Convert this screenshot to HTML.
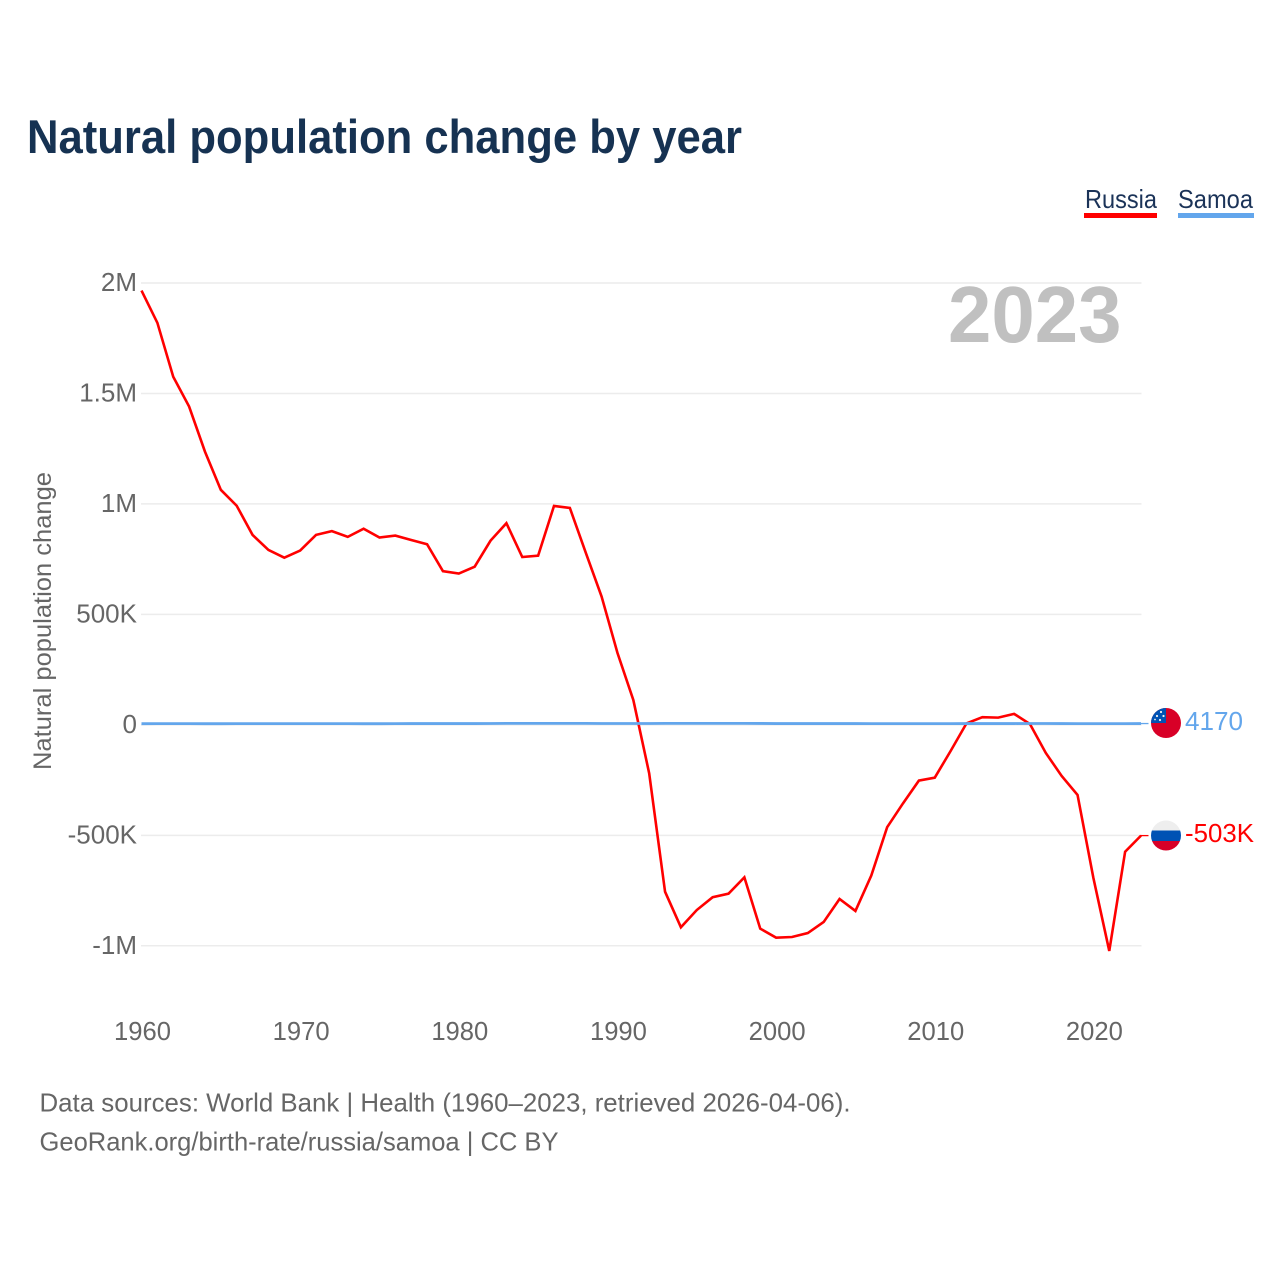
<!DOCTYPE html>
<html lang="en">
<head>
<meta charset="utf-8">
<title>Natural population change by year</title>
<style>
  html, body { margin: 0; padding: 0; background: #ffffff; }
  svg { display: block; }
  text { font-family: "Liberation Sans", sans-serif; }
</style>
</head>
<body>
<svg id="chart" xmlns="http://www.w3.org/2000/svg" width="1280" height="1280" viewBox="0 0 1280 1280">
  <defs>
    <clipPath id="flag-clip-samoa"><circle id="clip-samoa" cx="1166" cy="723" r="15"></circle></clipPath>
    <clipPath id="flag-clip-russia"><circle id="clip-russia" cx="1166" cy="835.5" r="15"></circle></clipPath>
  </defs>
  <rect x="0" y="0" width="1280" height="1280" fill="#ffffff"></rect>

  <text x="27" y="153" font-size="47" font-weight="700" fill="#163252" textLength="715" lengthAdjust="spacingAndGlyphs">Natural population change by year</text>

  <g>
    <g>
      <text x="1085" y="208" font-size="26" fill="#1b3358" textLength="72" lengthAdjust="spacingAndGlyphs">Russia</text>
      <rect x="1084" y="213" width="73" height="5" fill="#ff0000"></rect>
    </g>
    <g>
      <text x="1178" y="208" font-size="26" fill="#1b3358" textLength="75" lengthAdjust="spacingAndGlyphs">Samoa</text>
      <rect x="1178" y="213" width="76" height="5" fill="#63a6ec"></rect>
    </g>
  </g>

  <g id="grid"></g>
  <g id="y-ticks"></g>
  <g id="x-ticks"></g>

  <text transform="translate(51 770) rotate(-90)" x="0" y="0" font-size="25" fill="#666666" textLength="298" lengthAdjust="spacingAndGlyphs">Natural population change</text>

  <text x="948" y="342" font-size="80" font-weight="700" fill="#c0c0c0" textLength="173.500" lengthAdjust="spacingAndGlyphs">2023</text>

  <g id="series" transform="translate(-0.5 -0.4)"></g>

  <g id="flag-samoa" clip-path="url(#flag-clip-samoa)">
    <rect x="1150" y="707" width="32" height="32" fill="#d80027"></rect>
    <rect x="1150" y="707" width="16" height="16" fill="#0052b4"></rect>
    <circle cx="1161" cy="712" r="1.1" fill="#eeeeee"></circle>
    <circle cx="1157" cy="716" r="1.1" fill="#eeeeee"></circle>
    <circle cx="1163.500" cy="716" r="1.1" fill="#eeeeee"></circle>
    <circle cx="1160" cy="720" r="1.1" fill="#eeeeee"></circle>
    <circle cx="1155" cy="719.500" r="0.9" fill="#eeeeee"></circle>
  </g>
  <g id="flag-russia" clip-path="url(#flag-clip-russia)">
    <rect x="1150" y="819" width="32" height="12" fill="#eeeeee"></rect>
    <rect x="1150" y="830.500" width="32" height="10.500" fill="#0052b4"></rect>
    <rect x="1150" y="841" width="32" height="12" fill="#d80027"></rect>
  </g>

  <text id="end-label-samoa" x="1185" y="730" font-size="26" fill="#63a6ec" textLength="58" lengthAdjust="spacingAndGlyphs"></text>
  <text id="end-label-russia" x="1185" y="842" font-size="26" fill="#ff0000" textLength="69" lengthAdjust="spacingAndGlyphs"></text>

  <g>
    <text x="39.500" y="1111.500" font-size="26" fill="#666666" textLength="811" lengthAdjust="spacingAndGlyphs">Data sources: World Bank | Health (1960–2023, retrieved 2026-04-06).</text>
    <text x="39.500" y="1150.500" font-size="26" fill="#666666" textLength="519" lengthAdjust="spacingAndGlyphs">GeoRank.org/birth-rate/russia/samoa | CC BY</text>
  </g>
</svg>

<script>
const years = [1960,1961,1962,1963,1964,1965,1966,1967,1968,1969,1970,1971,1972,1973,1974,1975,1976,1977,1978,1979,1980,1981,1982,1983,1984,1985,1986,1987,1988,1989,1990,1991,1992,1993,1994,1995,1996,1997,1998,1999,2000,2001,2002,2003,2004,2005,2006,2007,2008,2009,2010,2011,2012,2013,2014,2015,2016,2017,2018,2019,2020,2021,2022,2023];
const russiaValues = [1964000,1818000,1574000,1439000,1235000,1062000,990000,858000,790000,755000,787000,858000,875000,849000,886000,846000,855000,835000,816000,694000,683000,714000,832000,911000,758000,764000,989000,980000,778000,579000,324000,111000,-221000,-757000,-918000,-840000,-782000,-766000,-692000,-924000,-965000,-962000,-944000,-894000,-790000,-844000,-684000,-465000,-357000,-254000,-241000,-120000,5000,33000,31000,48000,2000,-129000,-233000,-319000,-695000,-1025000,-576000,-503000];
const samoaValues = [3600,3800,3900,3800,3500,3600,3700,3800,3800,3800,3900,3900,3700,3700,3600,3600,3800,4000,4100,4100,4100,4200,4300,4800,5000,5100,5100,5100,4900,4500,4400,4400,4500,4800,4900,4900,4900,4900,4800,4700,4200,4100,4100,4000,4000,4000,3900,3700,3800,3900,3900,3900,4000,4100,4100,4200,4300,4300,4100,3800,3900,3900,3800,4170];
const yTickValues = [2000000,1500000,1000000,500000,0,-500000,-1000000];
const yTickLabels = ["2M","1.5M","1M","500K","0","-500K","-1M"];
const xTickValues = [1960,1970,1980,1990,2000,2010,2020];
const xTickLabels = ["1960","1970","1980","1990","2000","2010","2020"];

const SVG_NS = "http://www.w3.org/2000/svg";
const plot = { left: 142, right: 1141.500, yTop: 283, yBottom: 945.800, xMin: 1960, xMax: 2023, vTop: 2000000, vBottom: -1000000 };

function xScale(year) {
  return plot.left + (year - plot.xMin) / (plot.xMax - plot.xMin) * (plot.right - plot.left);
}
function yScale(value) {
  return plot.yTop + (plot.vTop - value) / (plot.vTop - plot.vBottom) * (plot.yBottom - plot.yTop);
}
function make(tag, parent, attrs) {
  const node = document.createElementNS(SVG_NS, tag);
  Object.keys(attrs).forEach(function (k) { node.setAttribute(k, attrs[k]); });
  parent.appendChild(node);
  return node;
}
function formatEnd(value) {
  const a = Math.abs(value);
  if (a >= 1000000) return (value / 1000000).toFixed(2) + "M";
  if (a >= 10000) return Math.round(value / 1000) + "K";
  return String(value);
}

const gridGroup = document.getElementById("grid");
const yTickGroup = document.getElementById("y-ticks");
const xTickGroup = document.getElementById("x-ticks");
const seriesGroup = document.getElementById("series");

yTickValues.forEach(function (v, i) {
  const line = make("line", gridGroup, { x1: plot.left - 1, x2: plot.right, y1: yScale(v), y2: yScale(v), stroke: "#ececec", "stroke-width": 1.5 });
  
  
  const label = make("text", yTickGroup, { x: 137, y: yScale(v) + 8, "text-anchor": "end", "font-size": 26, fill: "#666666" });
  label.textContent = yTickLabels[i];
  
  
});

xTickValues.forEach(function (v, i) {
  const label = make("text", xTickGroup, { x: xScale(v) + 0.5, y: 1040, "text-anchor": "middle", "font-size": 25.6, fill: "#666666" });
  label.textContent = xTickLabels[i];
  
  
});

function pointsFor(values) {
  return values.map(function (v, i) { return xScale(years[i]).toFixed(2) + "," + yScale(v).toFixed(2); }).join(" ");
}

const russiaLine = make("polyline", seriesGroup, { points: pointsFor(russiaValues), fill: "none", stroke: "#ff0000", "stroke-width": 2.6, "stroke-linejoin": "miter" });



const samoaLine = make("polyline", seriesGroup, { points: pointsFor(samoaValues), fill: "none", stroke: "#63a6ec", "stroke-width": 2.8, "stroke-linejoin": "miter" });



const russiaLast = russiaValues[russiaValues.length - 1];
const samoaLast = samoaValues[samoaValues.length - 1];

const russiaLeader = make("line", seriesGroup, { x1: plot.right - 1, x2: 1149, y1: yScale(russiaLast), y2: yScale(russiaLast), stroke: "#ff0000", "stroke-width": 1.3 });



const samoaLeader = make("line", seriesGroup, { x1: plot.right - 1, x2: 1149, y1: yScale(samoaLast), y2: yScale(samoaLast), stroke: "#63a6ec", "stroke-width": 1.3 });



document.getElementById("end-label-samoa").textContent = formatEnd(samoaLast);
document.getElementById("end-label-russia").textContent = formatEnd(russiaLast);
</script>
</body>
</html>
